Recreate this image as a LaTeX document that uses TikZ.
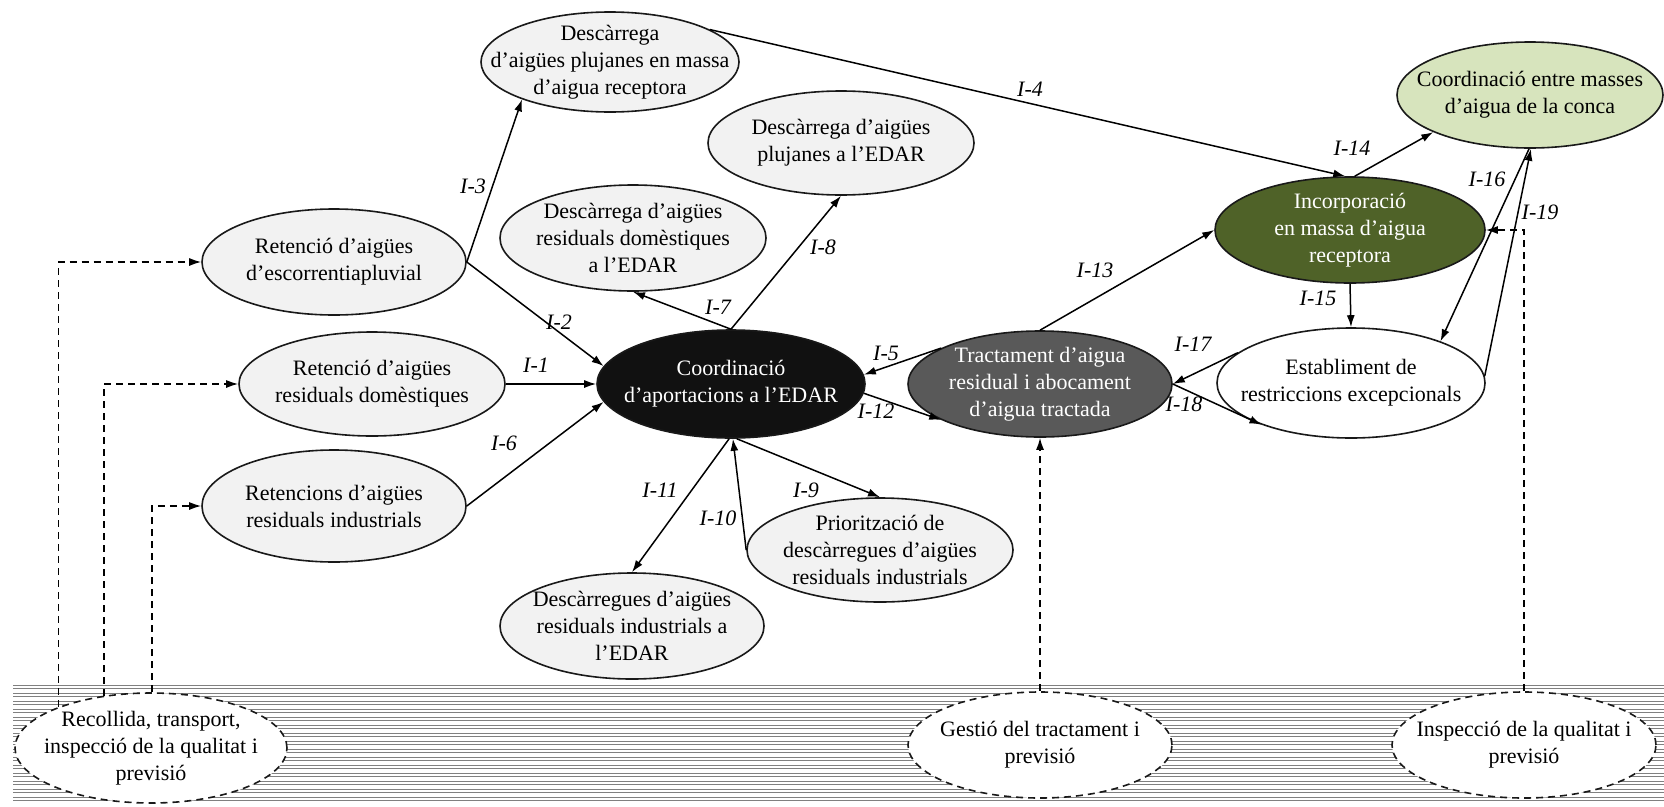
\documentclass[tikz,border=0pt]{standalone}
\usepackage{fontspec}
\setmainfont{Liberation Serif}
\usetikzlibrary{shapes.geometric,arrows.meta}
\definecolor{bubble}{HTML}{F2F2F2}
\definecolor{coordblack}{HTML}{111111}
\definecolor{treatgray}{HTML}{595959}
\definecolor{darkolive}{HTML}{4F6228}
\definecolor{paleolive}{HTML}{D7E4BD}
\begin{document}
\begin{tikzpicture}[x=1pt,y=-1pt,
  ell/.style={ellipse, draw=black!90, line width=1.6pt, fill=bubble, inner sep=0pt},
  dell/.style={ell, fill=white, dash pattern=on 7pt off 5pt},
  txt/.style={align=center, font=\fontsize{22}{27}\selectfont, inner sep=0pt},
  wtxt/.style={txt, text=white},
  conn/.style={line width=1.5pt, -{Latex[length=12pt,width=8pt]}},
  dconn/.style={conn, dash pattern=on 7pt off 5pt},
  lab/.style={font=\fontsize{22}{22}\selectfont\itshape, inner sep=0pt},
  bandline/.style={draw=black!50, double=white, line width=1pt, double distance=1.5pt}]
\useasboundingbox (0,0) rectangle (1664,806);

% striped band along the bottom
\foreach \k in {0,...,14}
  \draw[bandline] (13,687+8*\k) -- (1664,687+8*\k);

% main process nodes
\node[ell, minimum width=258, minimum height=100, label={[txt]center:{Descàrrega\\d’aigües plujanes en massa\\d’aigua receptora}}] (A) at (610,62) {};
\node[ell, minimum width=266, minimum height=104, label={[txt]center:{Descàrrega d’aigües\\plujanes a l’EDAR}}] (B) at (841,143) {};
\node[ell, minimum width=266, minimum height=106, label={[txt]center:{Descàrrega d’aigües\\residuals domèstiques\\a l’EDAR}}] (C) at (633,238) {};
\node[ell, minimum width=264, minimum height=106, label={[txt]center:{Retenció d’aigües\\d’escorrentiapluvial}}] (D) at (334,262) {};
\node[ell, minimum width=266, minimum height=104, label={[txt]center:{Retenció d’aigües\\residuals domèstiques}}] (E) at (372,384) {};
\node[ell, minimum width=264, minimum height=112, label={[txt]center:{Retencions d’aigües\\residuals industrials}}] (F) at (334,506) {};
\node[ell, fill=coordblack, minimum width=268, minimum height=108, label={[wtxt]center:{Coordinació\\d’aportacions a l’EDAR}}] (G) at (731,384) {};
\node[ell, fill=treatgray, minimum width=264, minimum height=106, label={[wtxt]center:{Tractament d’aigua\\residual i abocament\\d’aigua tractada}}] (H) at (1040,384) {};
\node[ell, fill=darkolive, minimum width=270, minimum height=106, label={[wtxt]center:{Incorporació\\en massa d’aigua\\receptora}}] (I) at (1350,230) {};
\node[ell, fill=paleolive, minimum width=266, minimum height=106, label={[txt]center:{Coordinació entre masses\\d’aigua de la conca}}] (J) at (1530,95) {};
\node[ell, fill=white, minimum width=268, minimum height=110, label={[txt]center:{Establiment de\\restriccions excepcionals}}] (K) at (1351,383) {};
\node[ell, minimum width=266, minimum height=104, label={[txt]center:{Priorització de\\descàrregues d’aigües\\residuals industrials}}] (L) at (880,550) {};
\node[ell, minimum width=264, minimum height=106, label={[txt]center:{Descàrregues d’aigües\\residuals industrials a\\l’EDAR}}] (M) at (632,626) {};

% management nodes on the band
\node[dell, minimum width=272, minimum height=110, label={[txt]center:{Recollida, transport,\\inspecció de la qualitat i\\previsió}}] (N) at (151,748) {};
\node[dell, minimum width=264, minimum height=106, label={[txt]center:{Gestió del tractament i\\previsió}}] (O) at (1040,745) {};
\node[dell, minimum width=264, minimum height=106, label={[txt]center:{Inspecció de la qualitat i\\previsió}}] (P) at (1524,745) {};

% interactions
\draw[conn] (E.east) -- (G.west);
\draw[conn] (D.east) -- (G.172);
\draw[conn] (D.east) -- (A.203);
\draw[conn] (A.18) -- (I.95);
\draw[conn] (H.160) -- (G.4);
\draw[conn] (F.east) -- (G.188);
\draw[conn] (G.north) -- (C.south);
\draw[conn] (G.north) -- (B.south);
\draw[conn] (G.-84) -- (L.north);
\draw[conn] (L.west) -- (G.-88);
\draw[conn] (G.-92) -- (M.north);
\draw[conn] (G.-4) -- (H.200);
\draw[conn] (H.north) -- (I.west);
\draw[conn] (I.85) -- (J.201);
\draw[conn] (I.south) -- (K.north);
\draw[conn] (J.-91) -- (K.25);
\draw[conn] (K.165) -- (H.east);
\draw[conn] (H.east) -- (K.205);
\draw[conn] (K.3) -- (J.-89);

% management links
\draw[dconn] (N.156) |- (D.west);
\draw[dconn] (N.132) |- (E.west);
\draw[dconn] (N.89) |- (F.west);
\draw[dconn] (O.north) -- (H.south);
\draw[dconn] (P.north) |- (I.east);

% interaction labels
\node[lab] (l1) at (536,365) {I-1};
\node[lab] (l2) at (559,322) {I-2};
\node[lab] (l3) at (473,186) {I-3};
\node[lab] (l4) at (1030,89) {I-4};
\node[lab] (l5) at (886,353) {I-5};
\node[lab] (l6) at (504,443) {I-6};
\node[lab] (l7) at (718,307) {I-7};
\node[lab] (l8) at (823,247) {I-8};
\node[lab] (l9) at (806,490) {I-9};
\node[lab] (l10) at (718,518) {I-10};
\node[lab] (l11) at (660,490) {I-11};
\node[lab] (l12) at (876,411) {I-12};
\node[lab] (l13) at (1095,270) {I-13};
\node[lab] (l14) at (1352,148) {I-14};
\node[lab] (l15) at (1318,298) {I-15};
\node[lab] (l16) at (1487,179) {I-16};
\node[lab] (l17) at (1193,344) {I-17};
\node[lab] (l18) at (1184,404) {I-18};
\node[lab] (l19) at (1540,212) {I-19};
\end{tikzpicture}
\end{document}
